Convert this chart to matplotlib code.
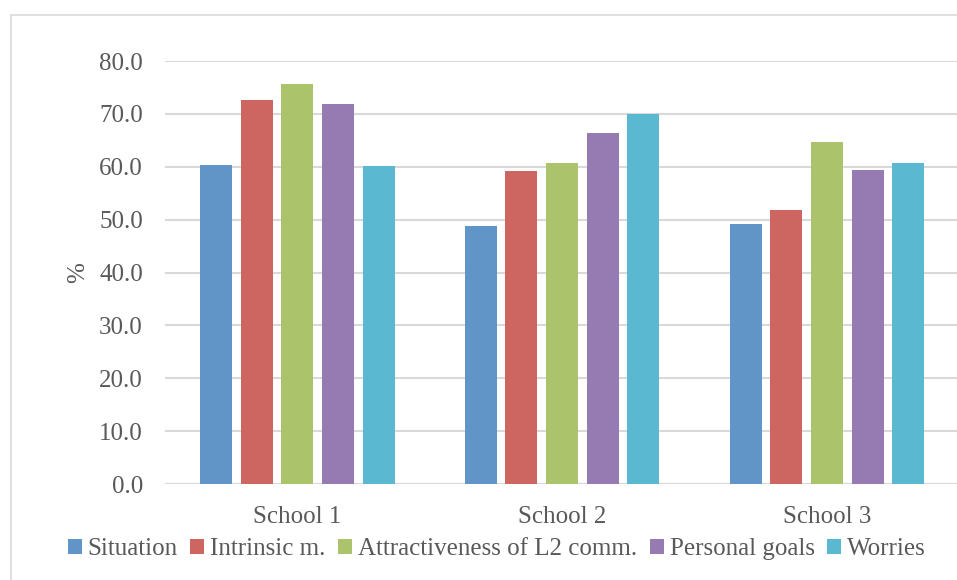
import matplotlib
matplotlib.use("Agg")
import matplotlib.pyplot as plt
from matplotlib.patches import Rectangle

schools = ["School 1", "School 2", "School 3"]
series = ["Situation", "Intrinsic m.", "Attractiveness of L2 comm.",
          "Personal goals", "Worries"]
situation = [60.4, 48.8, 49.1]
intrinsic = [72.6, 59.2, 51.9]
attractiveness = [75.7, 60.7, 64.6]
personal_goals = [71.8, 66.4, 59.4]
worries = [60.2, 70.0, 60.8]
colors = ["#6195c8", "#cd6660", "#abc46b", "#957bb1", "#5bb8d1"]

values = [situation, intrinsic, attractiveness, personal_goals, worries]

plt.rcParams['font.family'] = ['Liberation Serif', 'DejaVu Serif']
text_color = "#595959"

fig = plt.figure(figsize=(9.57, 5.8), dpi=100)
ax = fig.add_axes([0.1724, 0.1655, 0.83, 0.7293])

# outer chart border
fig.patches.append(Rectangle((11 / 957, -0.1), 1.2, 1 - 15 / 580 + 0.1,
                             transform=fig.transFigure, fill=False,
                             edgecolor="#d9d9d9", linewidth=1.2))

pitch = 0.1536
width = 0.121
for i, (name, vals) in enumerate(zip(series, values)):
    xs = [x + (i - 2) * pitch for x in range(len(schools))]
    ax.bar(xs, vals, width, color=colors[i], label=name, zorder=3)

ax.set_xlim(-0.5, 2.5)
ax.set_ylim(0, 80)
ax.set_yticks(range(0, 81, 10))
ax.set_yticklabels([f"{v:.1f}" for v in range(0, 81, 10)])
ax.set_xticks(range(len(schools)))
ax.set_xticklabels(schools)
ax.yaxis.grid(True, color="#d9d9d9", linewidth=1.5, zorder=0)
for s in ax.spines.values():
    s.set_visible(False)
ax.axhline(0, color="#d9d9d9", linewidth=1.5, zorder=2)
ax.tick_params(axis="both", length=0, labelsize=18, colors=text_color)
ax.tick_params(axis="y", pad=16)
ax.tick_params(axis="x", pad=16)
ax.set_ylabel("%", fontsize=18, color=text_color, labelpad=7)

ax.legend(loc="center", bbox_to_anchor=(497 / 957, 0.053),
          bbox_transform=fig.transFigure, ncol=5, frameon=False,
          fontsize=18, labelcolor=text_color, handlelength=0.55,
          handleheight=0.55, handletextpad=0.25, columnspacing=0.5,
          borderpad=0)

fig.savefig("out.png", dpi=100)
